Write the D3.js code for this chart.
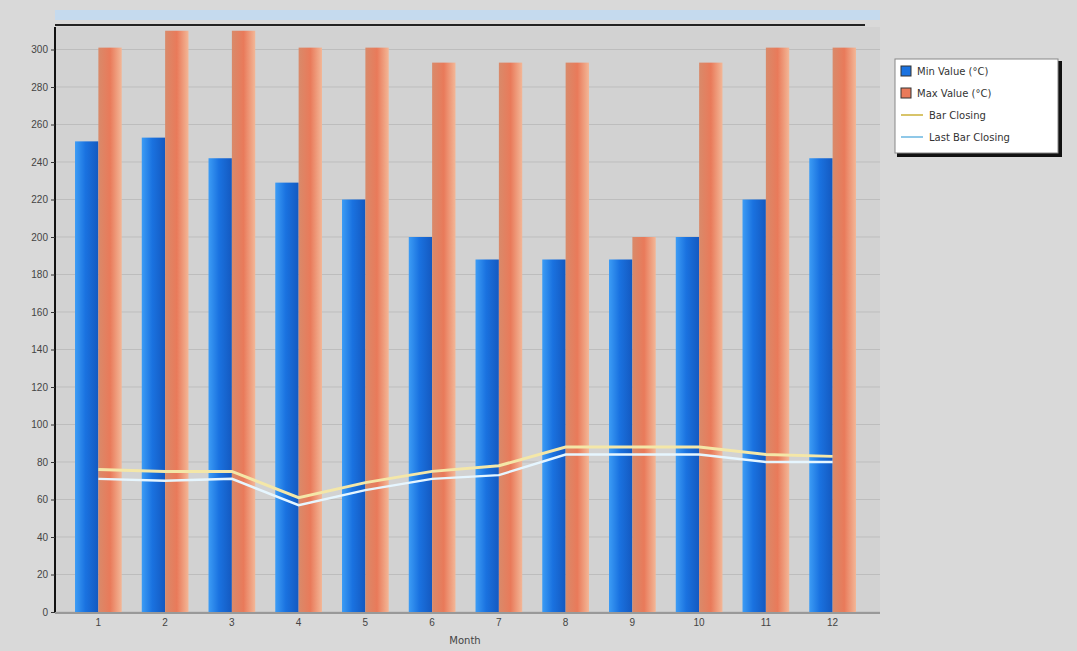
<!DOCTYPE html>
<html><head><meta charset="utf-8">
<script src="https://cdn.jsdelivr.net/npm/d3@7/dist/d3.min.js"></script>
<style>body{margin:0;background:#d9d9d9;font-family:"DejaVu Sans",Arial,sans-serif;}</style>
</head><body><svg id="c" width="1077" height="651"></svg>
<script>
const months = ["1","2","3","4","5","6","7","8","9","10","11","12"];
const minValues = [251, 253, 242, 229, 220, 200, 188, 188, 188, 200, 220, 242];
const maxValues = [301, 310, 310, 301, 301, 293, 293, 293, 200, 293, 301, 301];
const lineA = [76, 75, 75, 61, 69, 75, 78, 88, 88, 88, 84, 83];
const lineB = [71, 70, 71, 57, 65, 71, 73, 84, 84, 84, 80, 80];
const yTicks = d3.range(0, 301, 20);
const legendLabels = ["Min Value (\u00b0C)", "Max Value (\u00b0C)", "Bar Closing", "Last Bar Closing"];
const xTitle = "Month";

const svg = d3.select("#c");
const L = 55, R = 880, T = 27, B = 612;
const x0 = d3.scaleBand().domain(months).range([65, 866]).paddingInner(0.3).paddingOuter(0.15);
const x1 = d3.scaleBand().domain(["min","max"]).range([0, x0.bandwidth()]).paddingInner(0);
const y = d3.scaleLinear().domain([0, 312]).range([B, T]);

const defs = svg.append("defs");
function grad(id, stops){
  const g = defs.append("linearGradient").attr("id", id).attr("x1","0").attr("x2","1").attr("y1","0").attr("y2","0");
  stops.forEach(([o,c]) => g.append("stop").attr("offset", o).attr("stop-color", c));
}
grad("gBlue", [[0,"#3c9cf5"],[0.45,"#1a72e0"],[1,"#1459c0"]]);
grad("gOrange", [[0,"#d98a6a"],[0.5,"#e97a5a"],[1,"#f3b797"]]);

// top strip
svg.append("rect").attr("x", L).attr("y", 10).attr("width", R - L).attr("height", 10).attr("fill", "#c5daee");
svg.append("line").attr("x1", L).attr("x2", R - 15).attr("y1", 25).attr("y2", 25).attr("stroke", "#222").attr("stroke-width", 2);

// plot background
svg.append("rect").attr("x", L).attr("y", T).attr("width", R - L).attr("height", B - T).attr("fill", "#d2d2d2");
svg.append("g").selectAll("line").data(yTicks).join("line")
  .attr("x1", L).attr("x2", R).attr("y1", d => y(d)).attr("y2", d => y(d))
  .attr("stroke", "#bdbdbd").attr("stroke-width", 1);

// bars
const groups = svg.append("g").selectAll("g").data(months).join("g")
  .attr("transform", d => `translate(${x0(d)},0)`);
groups.append("rect").attr("x", x1("min")).attr("width", x1.bandwidth())
  .attr("y", (d,i) => y(minValues[i])).attr("height", (d,i) => B - y(minValues[i]))
  .attr("fill", "url(#gBlue)");
groups.append("rect").attr("x", x1("max")).attr("width", x1.bandwidth())
  .attr("y", (d,i) => y(maxValues[i])).attr("height", (d,i) => B - y(maxValues[i]))
  .attr("fill", "url(#gOrange)");

// lines
const lineGen = d3.line().x((d,i) => x0(months[i]) + x0.bandwidth()/2).y(d => y(d));
svg.append("path").datum(lineA).attr("d", lineGen).attr("fill","none").attr("stroke","#f4e7a8").attr("stroke-width",3);
svg.append("path").datum(lineB).attr("d", lineGen).attr("fill","none").attr("stroke","#e6f6ff").attr("stroke-width",2.5);

// y axis
const yAxis = d3.axisLeft(y).tickValues(yTicks).tickSize(4).tickPadding(3);
const ya = svg.append("g").attr("transform", `translate(${L},0)`).call(yAxis);
ya.select(".domain").attr("stroke", "#111").attr("stroke-width", 2).attr("d", `M0,${T}V${B}`);
ya.selectAll("text").attr("font-size", 10).attr("fill", "#444");
ya.selectAll(".tick line").attr("stroke", "#333");

// x axis
svg.append("line").attr("x1", L).attr("x2", R).attr("y1", B + 1).attr("y2", B + 1).attr("stroke", "#999").attr("stroke-width", 2);
const xAxis = d3.axisBottom(x0).tickSize(0).tickPadding(7);
const xa = svg.append("g").attr("transform", `translate(0,${B})`).call(xAxis);
xa.select(".domain").remove();
xa.selectAll("text").attr("font-size", 10).attr("fill", "#444");
svg.append("text").attr("x", 465).attr("y", 644).attr("text-anchor","middle").attr("font-size", 10).attr("fill","#444").text(xTitle);

// legend
const lg = svg.append("g").attr("transform", "translate(895,59)");
lg.append("rect").attr("x", 2).attr("y", 2).attr("width", 165).attr("height", 96).attr("fill", "#111");
lg.append("rect").attr("width", 163).attr("height", 94).attr("fill", "#fff").attr("stroke", "#888");
const items = lg.selectAll("g").data(legendLabels).join("g").attr("transform", (d,i) => `translate(0,${12 + i*22})`);
items.each(function(d,i){
  const g = d3.select(this);
  if (i < 2) {
    g.append("rect").attr("x", 6).attr("y", -5).attr("width", 10).attr("height", 10).attr("fill", i === 0 ? "#1a72e0" : "#e97a5a").attr("stroke", "#333");
    g.append("text").attr("x", 22).attr("y", 4).attr("font-size", 10).attr("fill", "#333").text(d);
  } else {
    g.append("line").attr("x1", 6).attr("x2", 28).attr("y1", 0).attr("y2", 0).attr("stroke", i === 2 ? "#d8c46a" : "#8fc8e8").attr("stroke-width", 2);
    g.append("text").attr("x", 34).attr("y", 4).attr("font-size", 10).attr("fill", "#333").text(d);
  }
});
</script></body></html>
